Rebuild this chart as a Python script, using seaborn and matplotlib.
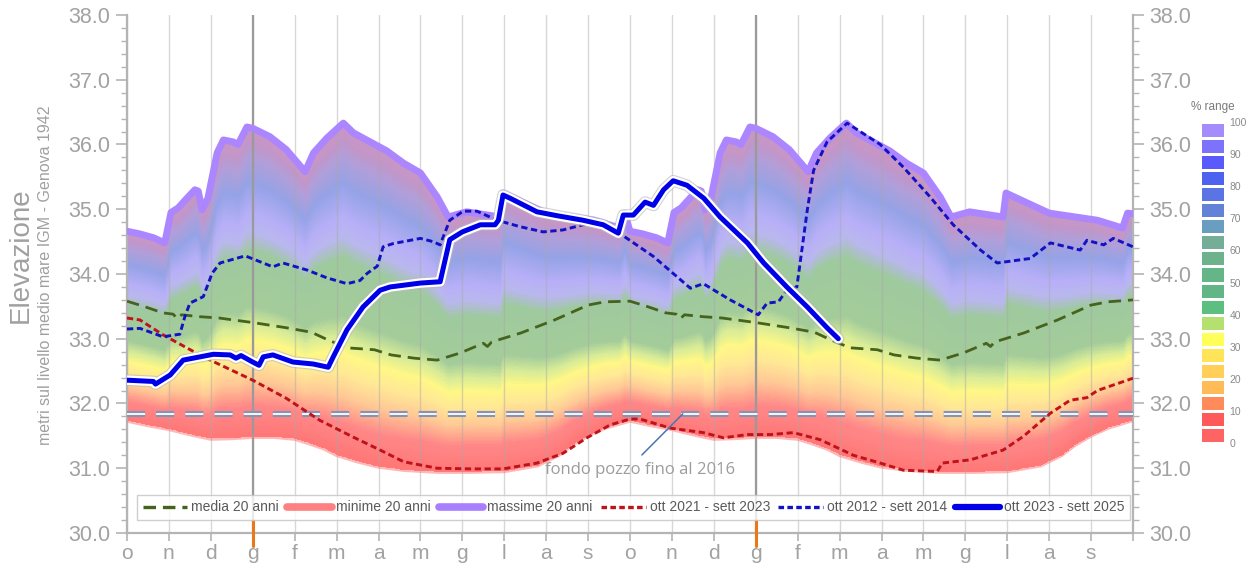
import numpy as np
import matplotlib
matplotlib.use("Agg")
import matplotlib.pyplot as plt
import matplotlib.patheffects as pe
import seaborn as sns
from matplotlib.colors import LinearSegmentedColormap, ListedColormap
from matplotlib.lines import Line2D

# ---------------------------------------------------------------- data
# month offset counted from 1 October of the first hydrological year
month_labels = ["o", "n", "d", "g", "f", "m", "a", "m", "g", "l", "a", "s"] * 2

# 20-year statistics for one hydrological year (repeated for the second one)
max_month = [0.0, 0.3, 0.63, 0.9, 1.05, 1.22, 1.43, 1.62, 1.7, 1.79, 1.93, 2.15, 2.3,
             2.53, 2.65, 2.86, 3.0, 3.41, 3.8, 4.25, 4.45, 4.77, 5.16, 5.4, 5.8, 6.2,
             6.6, 7.0, 7.4, 7.66, 8.1, 8.9, 8.97, 9.3, 10.0, 11.15, 11.75, 11.87, 12.0]
max_level = [34.66, 34.62, 34.56, 34.48, 34.95, 35.02, 35.17, 35.30, 35.28, 34.99, 35.17,
             35.87, 36.07, 36.04, 36.00, 36.27, 36.25, 36.12, 35.92, 35.58, 35.87, 36.10,
             36.33, 36.18, 36.04, 35.90, 35.71, 35.56, 35.19, 34.88, 34.96, 34.88, 35.25,
             35.15, 34.94, 34.83, 34.71, 34.94, 34.93]

min_month = [0.0, 0.5, 1.0, 1.5, 2.0, 2.5, 3.0, 3.5, 4.0, 4.3, 4.7, 5.0, 5.5, 6.0, 6.6,
             7.4, 8.2, 9.0, 9.8, 10.3, 10.6, 11.0, 11.4, 12.0]
min_level = [31.73, 31.66, 31.60, 31.52, 31.45, 31.46, 31.48, 31.48, 31.45, 31.39, 31.30,
             31.20, 31.10, 31.02, 30.97, 30.94, 30.94, 30.95, 31.04, 31.20, 31.35, 31.50,
             31.62, 31.74]

mean_month = [0.0, 0.4, 0.85, 1.1, 1.2, 1.3, 1.75, 2.2, 3.0, 3.8, 4.4, 4.8, 5.25, 5.9,
              6.3, 6.85, 7.4, 7.95, 8.5, 8.6, 8.7, 9.4, 10.2, 11.0, 11.4, 12.0]
mean_level = [33.58, 33.50, 33.40, 33.38, 33.31, 33.37, 33.34, 33.32, 33.25, 33.17, 33.10,
              32.98, 32.86, 32.83, 32.75, 32.70, 32.67, 32.78, 32.93, 32.88, 32.95, 33.09,
              33.29, 33.52, 33.57, 33.60]

# observed levels
y2023_month = [0, 0.63, 0.68, 1.03, 1.34, 1.74, 2.06, 2.46, 2.6, 2.72, 3.0, 3.15, 3.25,
               3.48, 3.96, 4.44, 4.8, 4.92, 5.25, 5.63, 6.04, 6.28, 7.0, 7.47, 7.7, 8.0,
               8.43, 8.78, 8.86, 8.97, 9.14, 9.78, 10.26, 10.88, 11.36, 11.72, 11.84,
               12.08, 12.36, 12.56, 12.8, 13.03, 13.36, 13.76, 14.15, 14.8, 15.19, 15.74,
               16.23, 16.7, 16.97]
y2023_level = [32.36, 32.34, 32.30, 32.44, 32.67, 32.72, 32.76, 32.75, 32.70, 32.74, 32.64,
               32.59, 32.72, 32.75, 32.64, 32.61, 32.56, 32.72, 33.14, 33.49, 33.75, 33.80,
               33.86, 33.88, 34.53, 34.65, 34.76, 34.76, 34.83, 35.22, 35.17, 34.96, 34.90,
               34.83, 34.76, 34.63, 34.91, 34.91, 35.11, 35.06, 35.30, 35.44, 35.37, 35.17,
               34.88, 34.48, 34.17, 33.80, 33.49, 33.17, 33.00]

y2012_month = [0, 0.31, 0.86, 1.26, 1.38, 1.5, 1.82, 2.03, 2.22, 2.82, 3.48, 3.72, 4.3,
               4.77, 5.25, 5.56, 5.73, 5.97, 6.11, 6.35, 7.0, 7.3, 7.47, 7.7, 8.02, 8.35,
               8.83, 9.38, 9.93, 10.4, 10.88, 11.36, 11.77, 12.56, 13.44, 13.75, 14.39,
               15.06, 15.27, 15.54, 15.74, 15.98, 16.23, 16.38, 16.7, 17.18, 17.97, 18.52,
               19.16, 19.71, 20.36, 20.76, 21.55, 22.03, 22.74, 22.9, 23.3, 23.53, 24.0]
y2012_level = [33.15, 33.16, 33.03, 33.07, 33.34, 33.55, 33.65, 34.01, 34.17, 34.28, 34.11,
               34.17, 34.06, 33.94, 33.85, 33.90, 34.01, 34.12, 34.42, 34.47, 34.55, 34.50,
               34.45, 34.83, 34.97, 34.97, 34.83, 34.73, 34.65, 34.68, 34.76, 34.78, 34.62,
               34.27, 33.78, 33.85, 33.60, 33.37, 33.55, 33.57, 33.75, 33.80, 34.99, 35.60,
               36.04, 36.33, 36.00, 35.65, 35.19, 34.76, 34.37, 34.17, 34.24, 34.48, 34.37,
               34.52, 34.45, 34.55, 34.42]

y2021_month = [0, 0.31, 0.86, 1.82, 3.0, 3.8, 4.6, 5.4, 6.04, 6.6, 7.4, 8.2, 8.97, 9.78,
               10.4, 10.97, 11.53, 12.0, 12.24, 12.96, 13.75, 14.23, 14.8, 15.35, 15.9,
               16.54, 17.33, 17.97, 18.52, 19.33, 19.45, 20.12, 20.9, 21.38, 22.03, 22.5,
               22.9, 23.15, 24.0]
y2021_level = [33.32, 33.29, 33.06, 32.72, 32.36, 32.08, 31.74, 31.48, 31.28, 31.10, 31.00,
               30.99, 30.99, 31.08, 31.23, 31.47, 31.67, 31.76, 31.76, 31.62, 31.55, 31.47,
               31.52, 31.52, 31.55, 31.44, 31.20, 31.08, 30.97, 30.95, 31.08, 31.13, 31.28,
               31.49, 31.85, 32.05, 32.09, 32.20, 32.39]

well_bottom = 31.84  # fondo pozzo fino al 2016

# "% range" scale, one colour per 5 % step (0 -> 100)
range_colors = ["#ff6464", "#ff5a5a", "#ff8a5a", "#ffbb58", "#ffcf5a", "#ffe45a",
                "#ffff5a", "#b4e070", "#5cbf80", "#62b585", "#64b588", "#6cb38c",
                "#74ad98", "#6a9ec0", "#6282d8", "#5a74e4", "#4e62f0", "#5a5afc",
                "#7c72fc", "#a48cfc"]

# ---------------------------------------------------------------- style
sns.set_style("white")
plt.rcParams["font.family"] = ["Liberation Sans", "DejaVu Sans"]
plt.rcParams["lines.scale_dashes"] = False

GREY_TXT = "#a2a2a2"
AX_GREY = "#b4b4b4"


def two_years(month, level):
    m = np.asarray(month, float)
    v = np.asarray(level, float)
    return np.r_[m[:-1], m + 12], np.r_[v[:-1], v]


mx_m, mx_v = two_years(max_month, max_level)
mn_m, mn_v = two_years(min_month, min_level)
me_m, me_v = two_years(mean_month, mean_level)

fig = plt.figure(figsize=(12.55, 5.72), dpi=100)
ax = fig.add_axes([0.1012, 0.0682, 0.8016, 0.9056])
ax.set_xlim(0, 24)
ax.set_ylim(30, 38)

# ---------------------------------------------------------------- band
band_cmap = LinearSegmentedColormap.from_list("band", [
    (0.00, "#ff7070"), (0.10, "#ff8282"), (0.18, "#ffc690"), (0.25, "#ffe890"),
    (0.31, "#fff880"), (0.36, "#d8ec92"), (0.42, "#a0cb96"), (0.60, "#9ac79a"),
    (0.66, "#b6b4ee"), (0.72, "#b4acf8"), (0.82, "#909ee6"), (0.90, "#ac9ad8"),
    (0.96, "#c290c4"), (1.00, "#c690c2")])

gx = np.linspace(0, 24, 1600)
gy = np.linspace(30, 38, 900)
lo = np.interp(gx, mn_m, mn_v)
hi = np.interp(gx, mx_m, mx_v)
pct = (gy[:, None] - lo[None, :]) / (hi - lo)[None, :]
pct = np.ma.masked_where((pct < 0) | (pct > 1), pct)
ax.imshow(pct, extent=(0, 24, 30, 38), origin="lower", aspect="auto",
          cmap=band_cmap, vmin=0, vmax=1, interpolation="nearest", zorder=1,
          alpha=0.95)

# month grid
for m in range(25):
    ax.axvline(m, color="#a8a8a8", lw=1.0, alpha=0.45, zorder=2)
for m in (3, 15):
    ax.axvline(m, color="#9a9a9a", lw=1.6, zorder=2)

# envelopes
sns.lineplot(x=mn_m, y=mn_v, ax=ax, color="#ff7c7c", linewidth=2.5, alpha=0.55,
             sort=False, estimator=None, zorder=3)
sns.lineplot(x=mx_m, y=mx_v, ax=ax, color="#ac86ff", linewidth=5,
             sort=False, estimator=None, zorder=3, solid_joinstyle="round")

# bottom of the well
ax.axhline(well_bottom, color="#8793b2", lw=4.4, dashes=(13, 8), zorder=4)
ax.axhline(well_bottom, color="white", lw=1.3, dashes=(13, 8), zorder=4)

# series
sns.lineplot(x=me_m, y=me_v, ax=ax, color="#45631c", linewidth=2.0,
             sort=False, estimator=None, zorder=5)
ax.lines[-1].set_dashes((9, 5))
sns.lineplot(x=y2021_month, y=y2021_level, ax=ax, color="#c0121a", linewidth=2.1,
             sort=False, estimator=None, zorder=5)
ax.lines[-1].set_dashes((4.5, 2.6))
sns.lineplot(x=y2012_month, y=y2012_level, ax=ax, color="#1212c4", linewidth=2.1,
             sort=False, estimator=None, zorder=5)
ax.lines[-1].set_dashes((4.5, 2.6))
sns.lineplot(x=y2023_month, y=y2023_level, ax=ax, color="#0000e8", linewidth=3.6,
             sort=False, estimator=None, zorder=6, solid_joinstyle="round",
             solid_capstyle="round")
ax.lines[-1].set_path_effects([pe.Stroke(linewidth=8.5, foreground="#b8b8b8", alpha=0.6),
                               pe.Stroke(linewidth=6.8, foreground="white"),
                               pe.Normal()])

# annotation
ax.annotate("fondo pozzo fino al 2016", xy=(13.26, well_bottom), xytext=(9.98, 30.97),
            fontsize=12, color="#9c9c9c", family=["Open Sans", "DejaVu Sans"],
            va="center", ha="left", zorder=7,
            arrowprops=dict(arrowstyle="-", color="#4a74b4", lw=1.1,
                            relpos=(0.47, 1.0), shrinkA=4, shrinkB=0))

# ---------------------------------------------------------------- axes
ax.set_xticks(range(25))
ax.set_xticklabels(month_labels + [""])
ax.set_yticks(np.arange(30, 38.01, 1.0))
ax.set_yticklabels([f"{v:.1f}" for v in np.arange(30, 38.01, 1.0)])
ax.set_yticks(np.arange(30, 38.01, 0.2), minor=True)
ax.tick_params(axis="y", which="major", labelsize=15.5, labelcolor=GREY_TXT,
               color=AX_GREY, length=8, width=1.2, left=True, right=True,
               labelleft=True, labelright=True, pad=4)
ax.tick_params(axis="y", which="minor", color=AX_GREY, length=4, width=1,
               left=True, right=True)
ax.tick_params(axis="x", which="major", labelsize=15, labelcolor=GREY_TXT,
               color=AX_GREY, length=6, width=1.2, bottom=True, pad=2)
for side in ("left", "right", "bottom"):
    ax.spines[side].set_color(AX_GREY)
    ax.spines[side].set_linewidth(1.6)
ax.spines["top"].set_visible(False)
ax.set_xlabel("")
ax.set_ylabel("")

# January markers on the time axis
for m in (3, 15):
    ax.plot([m, m], [-0.025, 0.025], transform=ax.get_xaxis_transform(),
            color="#e87818", lw=2.2, clip_on=False, zorder=8)

# legend
handles = [
    Line2D([], [], color="#45631c", lw=2.4, dashes=(9, 5)),
    Line2D([], [], color="#ff8080", lw=5.5),
    Line2D([], [], color="#a880ff", lw=5.5),
    Line2D([], [], color="#c0121a", lw=2.4, dashes=(4, 2.4)),
    Line2D([], [], color="#1212c4", lw=2.4, dashes=(4, 2.4)),
    Line2D([], [], color="#0000e8", lw=4.5),
]
labels = ["media 20 anni", "minime 20 anni", "massime 20 anni",
          "ott 2021 - sett 2023", "ott 2012 - sett 2014", "ott 2023 - sett 2025"]
leg = ax.legend(handles, labels, ncol=6, loc="lower left", mode="expand",
                bbox_to_anchor=(0.01, 0.025, 0.987, 0.072), borderaxespad=0,
                frameon=True, fancybox=False, fontsize=10, handlelength=3.2,
                handletextpad=0.3, columnspacing=0.6, labelcolor="#5a5a5a")
leg.get_frame().set_edgecolor("#c4c4c4")
leg.get_frame().set_linewidth(1.0)
leg.set_zorder(9)

# axis titles
fig.text(0.0165, 0.554, "Elevazione", rotation=90, fontsize=20, color="#a0a0a0",
         ha="center", va="center")
fig.text(0.0365, 0.519, "metri sul livello medio mare IGM - Genova 1942", rotation=90,
         fontsize=11.5, color="#a0a0a0", ha="center", va="center")

# ---------------------------------------------------------------- % range scale
cax = fig.add_axes([0.9562, 0.2255, 0.0200, 0.5612])
edges = np.arange(0, 101, 5)
cax.pcolormesh([0, 1], edges, np.arange(20).reshape(20, 1),
               cmap=ListedColormap(range_colors), vmin=-0.5, vmax=19.5,
               edgecolors="white", linewidth=0.8)
cax.set_xlim(0, 1)
cax.set_ylim(0, 100)
cax.set_xticks([])
cax.set_yticks(range(0, 101, 10))
cax.yaxis.tick_right()
cax.tick_params(axis="y", length=0, labelsize=7.5, labelcolor="#8a8a8a", pad=3)
for s in cax.spines.values():
    s.set_visible(False)
cax.set_title("% range", fontsize=8.5, color="#7a7a7a", pad=9)

fig.savefig("out.png", dpi=100)
